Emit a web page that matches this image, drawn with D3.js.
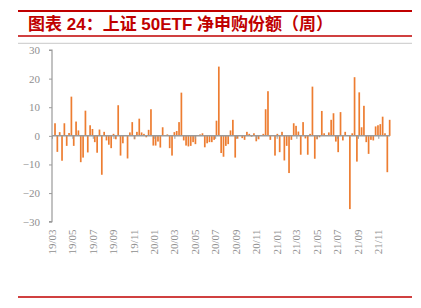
<!DOCTYPE html>
<html>
<head>
<meta charset="utf-8">
<script src="https://cdn.jsdelivr.net/npm/d3@7"></script>
<style>
  body { margin: 0; background: #fff; }
  svg { display: block; }
  .tick-label { font-family: 'Liberation Serif', 'Times New Roman', serif; font-size: 11px; fill: #8f8f8f; }
</style>
</head>
<body>
<div id="chart-area"><svg></svg></div>
<script>
const titleText = '图表 24：上证 50ETF 净申购份额（周）';

// weekly net subscription (亿份), first week ending 2019-03-08
const firstWeek = '2019-03-08';
const netSubscription = [
  4.4, -5.6, 1.3, -8.7, 4.4, -3.5, 1.0, 13.7, -3.5, 5.0,
  1.9, -9.2, -7.6, 8.8, -5.8, 3.7, 2.4, -2.2, -5.9, 2.2,
  -13.6, 1.4, -1.6, -3.1, -4.3, 0.7, -1.2, 10.7, -6.9, -2.6,
  0.3, -7.9, 1.2, 4.8, -1.2, 1.4, 6.0, 1.2, 0.7, -0.5,
  2.1, 9.3, -3.4, -3.4, -2.0, -4.1, 3.0, 0.2, 0.5, -4.3,
  -6.9, 1.3, 1.7, 4.8, 15.1, -1.6, -3.4, -3.7, -3.5, -2.2,
  -2.9, 0.3, 0.5, 0.9, -4.0, -2.6, -2.2, -2.2, -1.4, 5.3,
  24.2, -6.0, -7.3, -3.5, -2.9, 1.9, 5.6, -7.6, -1.0, 0.2,
  -0.8, -1.4, 1.4, 0.7, -0.3, 0.9, -1.9, -1.2, 0.2, 0.7,
  9.3, 15.6, -1.4, 0.2, -6.9, 0.7, -5.7, 1.4, -8.6, -3.5,
  -13.0, -1.4, 4.4, 3.5, 1.5, -6.6, 4.8, -0.9, -6.6, 0.7,
  17.2, -8.0, -1.2, -0.5, 8.7, 0.9, 0.2, 1.2, 5.6, 7.9,
  -2.0, -5.7, 8.3, -1.6, 1.4, 0.2, -25.6, 0.9, 20.5, -9.0,
  15.2, 3.0, 10.5, -2.2, -6.3, -1.4, -1.6, 3.3, 3.7, 4.1,
  6.7, 0.9, -12.7, 5.6
];

const xTickLabels = ['19/03', '19/05', '19/07', '19/09', '19/11', '20/01', '20/03', '20/05',
  '20/07', '20/09', '20/11', '21/01', '21/03', '21/05', '21/07', '21/09', '21/11'];
const yTicks = [-30, -20, -10, 0, 10, 20, 30];

const chartSize = { width: 421, height: 308 };
const plot = { left: 52, right: 390, top: 50, bottom: 221.7 };

const drawChart = () => {
  const svg = d3.select('#chart-area svg')
    .attr('width', chartSize.width)
    .attr('height', chartSize.height);

  svg.append('rect').attr('width', chartSize.width).attr('height', chartSize.height).attr('fill', '#fff');

  // header rules + title
  svg.append('line').attr('x1', 18).attr('x2', 412).attr('y1', 11).attr('y2', 11)
    .attr('stroke', '#c00000').attr('stroke-width', 2);
  svg.append('line').attr('x1', 18).attr('x2', 412).attr('y1', 36).attr('y2', 36)
    .attr('stroke', '#c00000').attr('stroke-width', 1.5);
  svg.append('line').attr('x1', 18).attr('x2', 412).attr('y1', 43.3).attr('y2', 43.3)
    .attr('stroke', '#c8c8c8').attr('stroke-width', 1);
  svg.append('line').attr('x1', 18).attr('x2', 412).attr('y1', 297).attr('y2', 297)
    .attr('stroke', '#c00000').attr('stroke-width', 1.5);

  svg.append('text')
    .attr('x', 28)
    .attr('y', 29.5)
    .attr('fill', '#c00000')
    .attr('font-family', "'Liberation Sans', 'Noto Sans CJK SC', sans-serif")
    .attr('font-weight', 'bold')
    .attr('font-size', 17)
    .text(titleText);

  const parseDay = d3.timeParse('%Y-%m-%d');
  const parseMonth = d3.timeParse('%y/%m');
  const start = parseDay(firstWeek);
  const weeks = d3.timeWeek.every(1).range(start, d3.timeDay.offset(start, netSubscription.length * 7 - 3));
  const data = netSubscription.map((v, i) => ({ date: weeks[i], value: v }));

  const x = d3.scaleTime()
    .domain([parseMonth('19/03'), parseDay('2021-12-06')])
    .range([plot.left, plot.right]);

  const y = d3.scaleLinear()
    .domain([-30, 30])
    .range([plot.bottom, plot.top]);

  // bars
  const barWidth = 1.7;
  svg.append('g').selectAll('rect')
    .data(data)
    .enter()
    .append('rect')
    .attr('x', d => x(d.date) - barWidth / 2)
    .attr('y', d => y(Math.max(0, d.value)))
    .attr('width', barWidth)
    .attr('height', d => Math.abs(y(d.value) - y(0)))
    .attr('fill', '#ed7d31');

  // y axis
  const yAxis = d3.axisLeft(y).tickValues(yTicks).tickSize(3).tickPadding(9);
  const gy = svg.append('g')
    .attr('transform', `translate(${plot.left},0)`)
    .call(yAxis);
  gy.select('.domain').attr('stroke', '#9a9a9a').attr('stroke-width', 1.2).attr('d', `M-3,${plot.top}H0V${plot.bottom}H-3`);
  gy.selectAll('.tick line').attr('stroke', '#9a9a9a');
  gy.selectAll('.tick text').attr('class', 'tick-label');

  // x axis on zero line
  const xAxis = d3.axisBottom(x)
    .tickValues(xTickLabels.map(parseMonth))
    .tickSize(3)
    .tickFormat(d3.timeFormat('%y/%m'));
  const gx = svg.append('g')
    .attr('transform', `translate(0,${y(0)})`)
    .call(xAxis);
  gx.select('.domain').attr('stroke', '#9a9a9a').attr('stroke-width', 1.5).attr('d', `M${plot.left},0H${plot.right}`);
  gx.selectAll('.tick line').attr('stroke', '#9a9a9a');
  gx.selectAll('.tick text').remove();

  // rotated labels below the plot
  svg.append('g').selectAll('text')
    .data(xTickLabels)
    .enter()
    .append('text')
    .attr('class', 'tick-label')
    .attr('transform', d => `translate(${x(parseMonth(d))},229.5) rotate(-90)`)
    .attr('text-anchor', 'end')
    .attr('dy', '0.35em')
    .text(d => d);
};

window.onload = drawChart;
</script>
</body>
</html>
